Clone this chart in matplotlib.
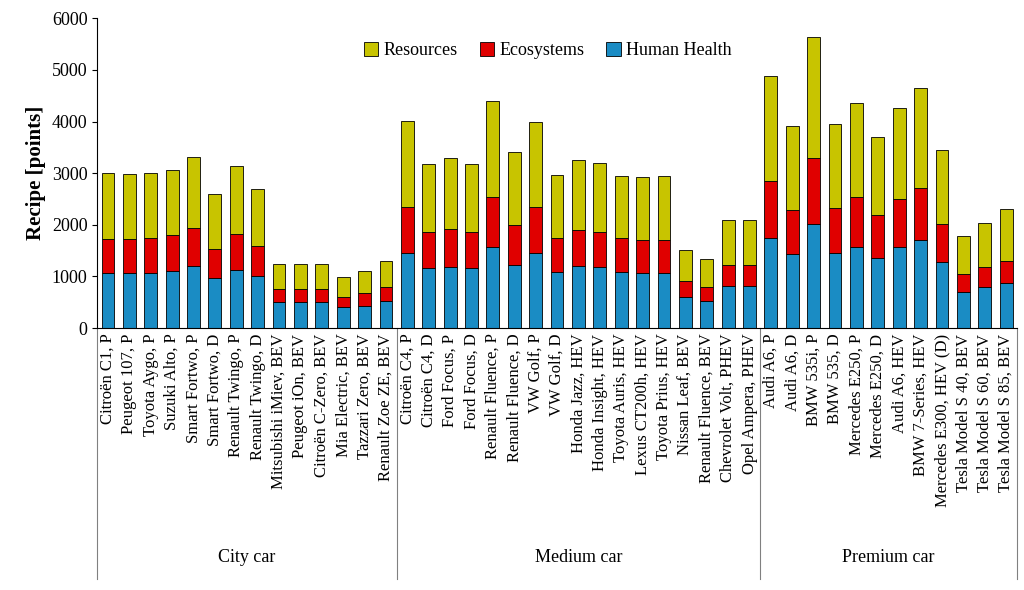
import matplotlib
matplotlib.use("Agg")
import matplotlib.pyplot as plt
import numpy as np

city = ["Citroën C1, P","Peugeot 107, P","Toyota Aygo, P","Suzuki Alto, P","Smart Fortwo, P","Smart Fortwo, D",
        "Renault Twingo, P","Renault Twingo, D","Mitsubishi iMiev, BEV","Peugeot iOn, BEV","Citroën C-Zero, BEV",
        "Mia Electric, BEV","Tazzari Zero, BEV","Renault Zoe ZE, BEV"]
medium = ["Citroën C4, P","Citroën C4, D","Ford Focus, P","Ford Focus, D","Renault Fluence, P","Renault Fluence, D",
          "VW Golf, P","VW Golf, D","Honda Jazz, HEV","Honda Insight, HEV","Toyota Auris, HEV","Lexus CT200h, HEV",
          "Toyota Prius, HEV","Nissan Leaf, BEV","Renault Fluence, BEV","Chevrolet Volt, PHEV","Opel Ampera, PHEV"]
premium = ["Audi A6, P","Audi A6, D","BMW 535i, P","BMW 535, D","Mercedes E250, P","Mercedes E250, D","Audi A6, HEV",
           "BMW 7-Series, HEV","Mercedes E300, HEV (D)","Tesla Model S 40, BEV","Tesla Model S 60, BEV","Tesla Model S 85, BEV"]
groups = ["City car", "Medium car", "Premium car"]

human_health = [1060,1060,1060,1110,1200,960,1130,1000,500,500,500,400,430,530,
                1450,1160,1190,1160,1570,1230,1450,1080,1200,1180,1080,1070,1070,610,530,810,810,
                1750,1430,2020,1450,1570,1360,1570,1700,1270,700,790,880]
ecosystems = [670,670,690,690,730,570,690,590,250,250,250,210,240,270,
              890,700,720,700,970,760,890,670,700,680,670,630,630,310,270,420,420,
              1090,860,1270,870,970,820,930,1020,740,350,400,410]
resources = [1270,1250,1250,1270,1390,1060,1320,1110,500,500,500,370,430,500,
             1680,1320,1380,1320,1850,1420,1660,1220,1350,1340,1200,1220,1250,600,540,870,870,
             2050,1620,2350,1630,1820,1520,1770,1930,1440,740,850,1020]

labels = city + medium + premium
x = np.arange(len(labels))
hh = np.array(human_health); eco = np.array(ecosystems); res = np.array(resources)

plt.rcParams["font.family"] = "Liberation Serif"
fig = plt.figure(figsize=(10.24, 5.90), dpi=100)
ax = fig.add_axes([0.095, 0.444, 0.898, 0.525])
w = 0.6
ax.bar(x, hh, w, color="#1a8cc4", edgecolor="black", linewidth=0.6, label="Human Health")
ax.bar(x, eco, w, bottom=hh, color="#e00000", edgecolor="black", linewidth=0.6, label="Ecosystems")
ax.bar(x, res, w, bottom=hh+eco, color="#c8c400", edgecolor="black", linewidth=0.6, label="Resources")
ax.set_xlim(-0.5, len(labels)-0.5)
ax.set_ylim(0, 6000)
ax.set_yticks(range(0, 6001, 1000))
ax.tick_params(axis="y", labelsize=13)
ax.set_xticks(x)
ax.set_xticklabels(labels, rotation=90, fontsize=12)
ax.tick_params(axis="x", length=0, pad=4)
ax.spines["top"].set_visible(False); ax.spines["right"].set_visible(False)
ax.set_ylabel("Recipe [points]", fontsize=15, fontweight="bold")
h, l = ax.get_legend_handles_labels()
ax.legend(h[::-1], l[::-1], ncol=3, loc="upper center", bbox_to_anchor=(0.49, 0.975), frameon=False,
          fontsize=13, handlelength=0.8, handleheight=0.8, columnspacing=1.2, handletextpad=0.3)

sizes = [len(city), len(medium), len(premium)]
bounds = np.concatenate([[0], np.cumsum(sizes)]) - 0.5
tr = ax.get_xaxis_transform()
for b in bounds:
    ax.plot([b, b], [0, -0.81], transform=tr, color="gray", linewidth=0.8, clip_on=False)
for i, g in enumerate(groups):
    ax.text((bounds[i]+bounds[i+1])/2, -0.74, g, transform=tr, ha="center", va="center", fontsize=13)
fig.savefig("out.png", dpi=100)
